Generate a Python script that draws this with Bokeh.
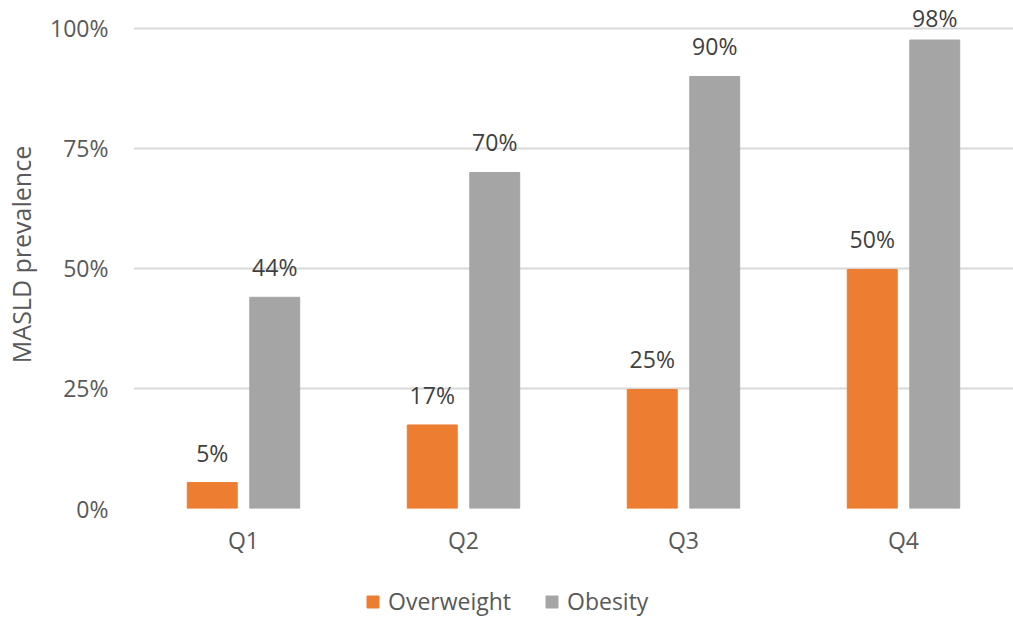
from bokeh.plotting import figure
from bokeh.layouts import column
from bokeh.models import ColumnDataSource, FixedTicker, NumeralTickFormatter, Legend, LegendItem, Range1d, FactorRange
from bokeh.transform import dodge
from bokeh.core.properties import value
from bokeh.embed import file_html
from bokeh.resources import INLINE

categories = ["Q1", "Q2", "Q3", "Q4"]
overweight = [0.054, 0.174, 0.248, 0.498]
obesity = [0.44, 0.70, 0.90, 0.976]
y_ticks = [0, 0.25, 0.5, 0.75, 1.0]
series_names = ["Overweight", "Obesity"]

FONT = "Open Sans"
TXT = "#595959"
LBL = "#404040"
ORANGE = "#ED7D31"
GRAY = "#A5A5A5"
LABEL_CAP = 0.96  # labels are kept inside the chart area, as in the original

src = ColumnDataSource(dict(
    cat=categories,
    ow=overweight,
    ob=obesity,
    ow_y=[min(v, LABEL_CAP) for v in overweight],
    ob_y=[min(v, LABEL_CAP) for v in obesity],
    ow_lbl=[f"{v*100:.0f}%" for v in overweight],
    ob_lbl=[f"{v*100:.0f}%" for v in obesity],
))

p = figure(x_range=FactorRange(*categories, range_padding=0),
           y_range=Range1d(0, 1.0583),
           width=1013, height=560, output_backend="svg", toolbar_location=None,
           min_border_left=133, min_border_right=0, min_border_top=0, min_border_bottom=52)

bw = 0.227
p.vbar(x=dodge("cat", -0.142, range=p.x_range), top="ow", width=bw, source=src,
       fill_color=ORANGE, line_color=ORANGE)
p.vbar(x=dodge("cat", 0.142, range=p.x_range), top="ob", width=bw, source=src,
       fill_color=GRAY, line_color=GRAY)

p.text(x=dodge("cat", -0.142, range=p.x_range), y="ow_y", text="ow_lbl", source=src,
       text_align="center", text_baseline="alphabetic", y_offset=-30,
       text_font=value(FONT), text_font_size="23px", text_color=LBL)
p.text(x=dodge("cat", 0.142, range=p.x_range), y="ob_y", text="ob_lbl", source=src,
       text_align="center", text_baseline="alphabetic", y_offset=-30,
       text_font=value(FONT), text_font_size="23px", text_color=LBL)

p.outline_line_color = None
p.xgrid.grid_line_color = None
p.ygrid.grid_line_color = "#D9D9D9"
p.ygrid.grid_line_width = 2
p.yaxis.ticker = FixedTicker(ticks=y_ticks)
p.yaxis.formatter = NumeralTickFormatter(format="0%")
for ax in (p.xaxis[0], p.yaxis[0]):
    ax.axis_line_color = None
    ax.major_tick_line_color = None
    ax.minor_tick_line_color = None
    ax.major_label_text_font = FONT
    ax.major_label_text_font_size = "23px"
    ax.major_label_text_color = TXT
p.xaxis.major_label_standoff = 9
p.yaxis.major_label_standoff = 19
p.yaxis.axis_label = "MASLD prevalence"
p.yaxis.axis_label_text_font = FONT
p.yaxis.axis_label_text_font_size = "25px"
p.yaxis.axis_label_text_font_style = "normal"
p.yaxis.axis_label_text_color = TXT
p.yaxis.axis_label_standoff = 9

# legend strip
lg = figure(width=1013, height=57, output_backend="svg", toolbar_location=None,
            x_range=Range1d(0, 1), y_range=Range1d(0, 1),
            min_border_left=133, min_border_right=0, min_border_top=0, min_border_bottom=0)
lg.axis.visible = False
lg.grid.visible = False
lg.outline_line_color = None
hidden = ColumnDataSource(dict(x=[-5.0], top=[0.0]))
g1 = lg.vbar(x="x", top="top", width=0.1, source=hidden, fill_color=ORANGE, line_color=ORANGE)
g2 = lg.vbar(x="x", top="top", width=0.1, source=hidden, fill_color=GRAY, line_color=GRAY)
legend = Legend(items=[LegendItem(label=series_names[0], renderers=[g1]),
                       LegendItem(label=series_names[1], renderers=[g2])],
                orientation="horizontal", location=(232, 0),
                label_text_font=FONT, label_text_font_size="23px", label_text_color=TXT,
                label_text_line_height=1.1,
                glyph_width=15, glyph_height=15, spacing=33, label_standoff=8,
                border_line_color=None, background_fill_alpha=0, margin=0, padding=0)
lg.add_layout(legend, "center")

open("out.html", "w").write(file_html(column(p, lg, spacing=0), INLINE))
